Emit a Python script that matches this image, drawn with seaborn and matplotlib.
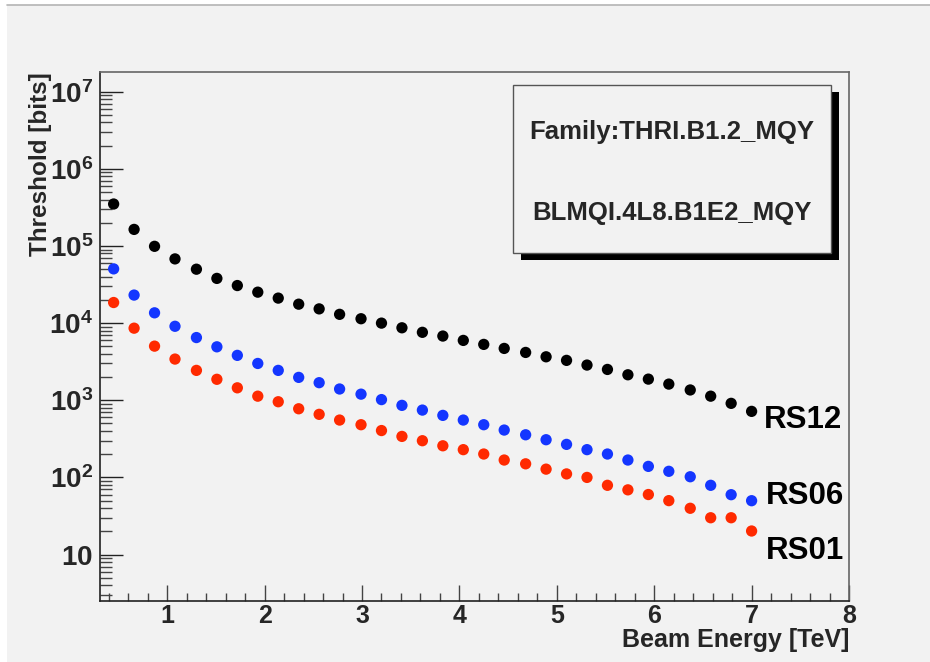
import numpy as np
import pandas as pd
import matplotlib
matplotlib.use("Agg")
import matplotlib.pyplot as plt
import matplotlib.ticker as mticker
from matplotlib.patches import Rectangle
from matplotlib.lines import Line2D
import seaborn as sns

# ---------------- data ----------------
beam_energy = [0.45, 0.66, 0.87, 1.08, 1.30, 1.51, 1.72, 1.93, 2.14, 2.35, 2.56,
               2.77, 2.99, 3.20, 3.41, 3.62, 3.83, 4.04, 4.25, 4.46, 4.68, 4.89,
               5.10, 5.31, 5.52, 5.73, 5.94, 6.15, 6.37, 6.58, 6.79, 7.00]
rs12 = [3.5e5, 1.64e5, 9.9e4, 6.8e4, 5.0e4, 3.8e4, 3.07e4, 2.52e4, 2.11e4, 1.76e4,
        1.53e4, 1.30e4, 1.14e4, 1.0e4, 8.7e3, 7.6e3, 6.8e3, 5.97e3, 5.3e3, 4.7e3,
        4.17e3, 3.66e3, 3.29e3, 2.86e3, 2.51e3, 2.14e3, 1.88e3, 1.62e3, 1.36e3,
        1.13e3, 912, 718]
rs06 = [5.05e4, 2.31e4, 1.36e4, 9.1e3, 6.5e3, 4.93e3, 3.82e3, 3.0e3, 2.44e3, 1.98e3,
        1.69e3, 1.40e3, 1.20e3, 1.02e3, 859, 746, 637, 554, 482, 411, 357, 308, 268,
        229, 201, 168, 139, 120, 102, 79, 59.7, 49.9]
rs01 = [1.85e4, 8.6e3, 5.03e3, 3.42e3, 2.44e3, 1.87e3, 1.45e3, 1.13e3, 957, 776,
        657, 554, 482, 405, 340, 299, 257, 229, 201, 168, 150, 128, 111, 100, 79,
        69, 60, 50, 39.8, 30, 30, 20.2]
series_names = ["RS12", "RS06", "RS01"]
series_colors = ["#000000", "#1436ff", "#ff2a00"]
x_ticks = [1, 2, 3, 4, 5, 6, 7, 8]
y_ticks = [1e1, 1e2, 1e3, 1e4, 1e5, 1e6, 1e7]
title_lines = ["Family:THRI.B1.2_MQY", "BLMQI.4L8.B1E2_MQY"]
x_label = "Beam Energy [TeV]"
y_label = "Threshold [bits]"

df = pd.concat([
    pd.DataFrame({"energy": beam_energy, "threshold": vals, "series": name})
    for name, vals in zip(series_names, [rs12, rs06, rs01])
], ignore_index=True)

# ---------------- style ----------------
sns.set_style("ticks")
plt.rcParams["font.family"] = ["Liberation Sans", "DejaVu Sans"]
plt.rcParams["mathtext.fontset"] = "custom"
plt.rcParams["mathtext.rm"] = "Liberation Sans"
plt.rcParams["mathtext.bf"] = "Liberation Sans:bold"

W, H = 930, 662
fig = plt.figure(figsize=(W / 100, H / 100), dpi=100, facecolor="white")

def fx(x):
    return x / W

def fy(y):
    return 1 - y / H

# gray panel with top border line
fig.add_artist(Rectangle((fx(7), 0), 1 - fx(7), fy(5), transform=fig.transFigure,
                         facecolor="#f2f2f2", edgecolor="none", zorder=-10))
fig.add_artist(Line2D([fx(7), 1], [fy(5), fy(5)], transform=fig.transFigure,
                      color="#b4b4b4", lw=1.2, zorder=-9))

ax = fig.add_axes([fx(100), fy(601), fx(849) - fx(100), fy(72) - fy(601)])
ax.set_facecolor("#f2f2f2")

sns.scatterplot(data=df, x="energy", y="threshold", hue="series",
                palette=dict(zip(series_names, series_colors)),
                s=66, linewidth=0, legend=False, ax=ax, zorder=3)

ax.set_yscale("log")
ax.set_xlim(0.31, 8.0)
ax.set_ylim(2.5, 1.8e7)

# ticks
ax.xaxis.set_major_locator(mticker.FixedLocator(x_ticks))
ax.xaxis.set_minor_locator(mticker.MultipleLocator(0.2))
ax.xaxis.set_major_formatter(mticker.FuncFormatter(lambda v, p: f"{int(round(v))}"))
ax.yaxis.set_major_locator(mticker.FixedLocator(y_ticks))
ax.yaxis.set_minor_locator(mticker.LogLocator(base=10, subs=np.arange(2, 10), numticks=20))

def ylab(v, p):
    e = int(round(np.log10(v)))
    if e == 1:
        return r"$\mathbf{10}$"
    return r"$\mathbf{10^{%d}}$" % e

ax.yaxis.set_major_formatter(mticker.FuncFormatter(ylab))
ax.yaxis.set_minor_formatter(mticker.NullFormatter())

ax.tick_params(axis="y", which="major", direction="in", length=16.5, width=1.0,
               color="#222222", labelsize=20, pad=5, left=True, right=False)
ax.tick_params(axis="y", which="minor", direction="in", length=8.6, width=1.0,
               color="#444444", left=True, right=False)
ax.tick_params(axis="x", which="major", direction="in", length=11.5, width=1.0,
               color="#444444", labelsize=18, pad=2, bottom=True, top=False)
ax.tick_params(axis="x", which="minor", direction="in", length=5.8, width=1.0,
               color="#444444", bottom=True, top=False)
for lab in ax.get_xticklabels():
    lab.set_fontweight("bold")

for side in ["left", "bottom"]:
    ax.spines[side].set_color("#222222")
    ax.spines[side].set_linewidth(1.2)
for side in ["top", "right"]:
    ax.spines[side].set_color("#666666")
    ax.spines[side].set_linewidth(1.2)

ax.set_xlabel("")
ax.set_ylabel("")
fig.text(fx(849), fy(640), x_label, ha="right", va="center",
         fontsize=18, fontweight="bold")
fig.text(fx(40), fy(72), y_label, ha="center", va="top", rotation=90,
         fontsize=17.5, fontweight="bold")

# series labels at line ends
label_pos = {"RS12": (7.13, 560), "RS06": (7.15, 58), "RS01": (7.15, 11.1)}
for name in series_names:
    xx, yy = label_pos[name]
    ax.text(xx, yy, name, ha="left", va="center", fontsize=22.5, fontweight="bold",
            color="black", zorder=5)

# text box with shadow
bx0, by0, bx1, by1 = 513, 85, 831, 253
fig.add_artist(Rectangle((fx(bx0 + 8), fy(by1 + 7)), fx(bx1 - bx0), fy(by0) - fy(by1),
                         transform=fig.transFigure, facecolor="black",
                         edgecolor="none", zorder=4))
fig.add_artist(Rectangle((fx(bx0), fy(by1)), fx(bx1 - bx0), fy(by0) - fy(by1),
                         transform=fig.transFigure, facecolor="#f2f2f2",
                         edgecolor="#555555", lw=1.0, zorder=5))
fig.text(fx((bx0 + bx1) / 2), fy(132), title_lines[0], ha="center", va="center",
         fontsize=18.5, fontweight="bold", zorder=6)
fig.text(fx((bx0 + bx1) / 2), fy(213), title_lines[1], ha="center", va="center",
         fontsize=18.5, fontweight="bold", zorder=6)

fig.savefig("out.png", dpi=100, facecolor=fig.get_facecolor())
